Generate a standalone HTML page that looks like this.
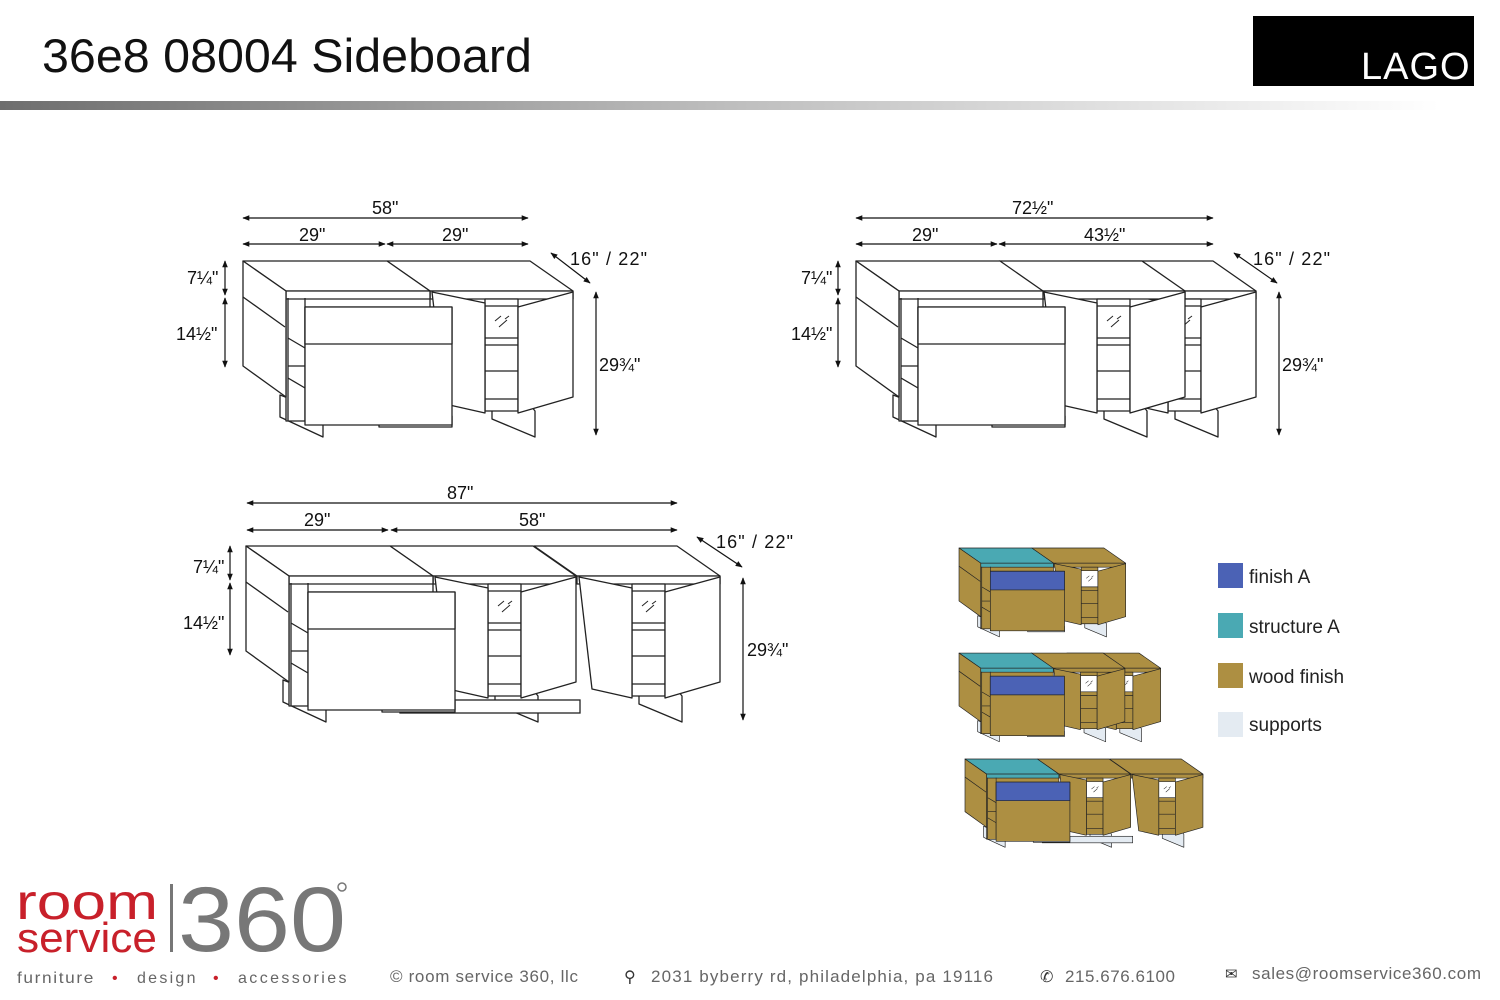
<!DOCTYPE html>
<html><head><meta charset="utf-8"><style>
body{margin:0;width:1500px;height:1000px;background:#fff;overflow:hidden;font-family:"Liberation Sans",sans-serif;position:relative}
.t{position:absolute;white-space:nowrap}
</style></head><body>
<div class="t" style="left:42px;top:28px;font-size:47px;color:#111;transform:scaleX(1.03);transform-origin:left">36e8 08004 Sideboard</div>
<div style="position:absolute;left:1253px;top:16px;width:221px;height:70px;background:#000"></div>
<div class="t" style="left:1361px;top:46px;font-size:38px;color:#fff;letter-spacing:1px">LAGO</div>
<div style="position:absolute;left:0;top:101px;width:1440px;height:9px;background:linear-gradient(90deg,#6e6e6e,#bdbdbd 50%,#fff)"></div>

<svg width="1500" height="1000" style="position:absolute;left:0;top:0" font-family="Liberation Sans, sans-serif">
<defs>
<marker id="a" viewBox="0 0 10 10" refX="9" refY="5" markerWidth="9" markerHeight="7" orient="auto-start-reverse" markerUnits="userSpaceOnUse"><path d="M0,1 L10,5 L0,9z" fill="#111"/></marker>
<g id="door" stroke="#222" stroke-width="1.3" stroke-linejoin="round">
 <polygon points="105,137 105,158 148,176 148,150 140,140" fill="var(--sup,#fff)"/>
 <polygon points="0,0 143,0 186,30 43,30" fill="var(--wood,#fff)"/>
 <rect x="43" y="30" width="143" height="8" fill="var(--wood,#fff)"/>
 <rect x="98" y="38" width="33" height="112" fill="var(--wood,#fff)"/>
 <rect x="98" y="45" width="33" height="32" fill="#fff"/>
 <path d="M98,84 H131 M98,110 H131 M98,138 H131" fill="none"/>
 <path d="M108,60 l6,-5 M112,66 l8,-7 M118,58 l4,-3" fill="none" stroke-width="1"/>
 <polygon points="45,31 98,42 98,152 58,143" fill="var(--wood,#fff)"/>
 <polygon points="131,46 186,31 186,136 131,152" fill="var(--wood,#fff)"/>
</g>
<g id="drw" stroke="#222" stroke-width="1.3" stroke-linejoin="round">
 <polygon points="37,134 37,156 80,176 80,150" fill="var(--sup,#fff)"/>
 <rect x="136" y="155" width="73" height="11" fill="var(--sup,#fff)"/>
 <rect x="43" y="30" width="144" height="130" fill="var(--wood,#fff)"/>
 <polygon points="0,0 144,0 187,30 43,30" fill="var(--top,#fff)"/>
 <rect x="43" y="30" width="144" height="8" fill="var(--top,#fff)"/>
 <polygon points="0,0 43,30 43,136 0,105" fill="var(--wood,#fff)"/>
 <path d="M0,36 L42,66" fill="none"/>
 <path d="M45,37 V160 M62,37 V160 M45,77 L62,87 M45,105 H62 M45,117 L62,127" fill="none"/>
 <rect x="62" y="46" width="147" height="118" fill="var(--wood,#fff)"/>
 <rect x="62" y="46" width="147" height="37" fill="var(--blue,#fff)"/>
</g>
<g id="d1">
 <use href="#door" x="387" y="261"/>
 <use href="#drw" x="243" y="261"/>
</g>
<g id="d2">
 <use href="#door" x="1070" y="261"/>
 <use href="#door" x="999" y="261"/>
 <use href="#drw" x="856" y="261"/>
</g>
<g id="d3">
 <use href="#door" x="534" y="546"/>
 <use href="#door" x="390" y="546"/>
 <rect x="400" y="700" width="180" height="13" stroke="#222" stroke-width="1.3" fill="var(--sup,#fff)"/>
 <use href="#drw" x="246" y="546"/>
</g>
</defs>

<use href="#d1"/>
<use href="#d2"/>
<use href="#d3"/>

<g style="--top:#4aa9b3;--wood:#ad8f42;--blue:#4b62b5;--sup:#e4ebf2">
 <use href="#d1" transform="translate(836.3,416.2) scale(0.505)"/>
 <use href="#d2" transform="translate(527.6,521.5) scale(0.504)"/>
 <use href="#d3" transform="translate(841.5,484.9) scale(0.502)"/>
</g>

<g stroke="#111" stroke-width="1.2" marker-start="url(#a)" marker-end="url(#a)" fill="none">
 <line x1="243" y1="218" x2="528" y2="218"/><line x1="243" y1="244" x2="385" y2="244"/><line x1="387" y1="244" x2="528" y2="244"/>
 <line x1="225" y1="261" x2="225" y2="295"/><line x1="225" y1="298" x2="225" y2="367"/><line x1="596" y1="292" x2="596" y2="435"/>
 <line x1="551" y1="253" x2="590" y2="283"/>
 <line x1="856" y1="218" x2="1213" y2="218"/><line x1="856" y1="244" x2="997" y2="244"/><line x1="999" y1="244" x2="1213" y2="244"/>
 <line x1="838" y1="261" x2="838" y2="295"/><line x1="838" y1="298" x2="838" y2="367"/><line x1="1279" y1="292" x2="1279" y2="435"/>
 <line x1="1234" y1="253" x2="1277" y2="283"/>
 <line x1="247" y1="503" x2="677" y2="503"/><line x1="247" y1="530" x2="388" y2="530"/><line x1="391" y1="530" x2="677" y2="530"/>
 <line x1="230" y1="546" x2="230" y2="580"/><line x1="230" y1="583" x2="230" y2="655"/><line x1="743" y1="578" x2="743" y2="720"/>
 <line x1="697" y1="537" x2="742" y2="567"/>
</g>
<g font-size="18" fill="#111">
 <text x="372" y="214">58"</text><text x="299" y="241">29"</text><text x="442" y="241">29"</text>
 <text x="187" y="284">7¼"</text><text x="176" y="340">14½"</text><text x="599" y="371">29¾"</text><text x="570" y="265" textLength="77">16" / 22"</text>
 <text x="1012" y="214">72½"</text><text x="912" y="241">29"</text><text x="1084" y="241">43½"</text>
 <text x="801" y="284">7¼"</text><text x="791" y="340">14½"</text><text x="1282" y="371">29¾"</text><text x="1253" y="265" textLength="77">16" / 22"</text>
 <text x="447" y="499">87"</text><text x="304" y="526">29"</text><text x="519" y="526">58"</text>
 <text x="193" y="573">7¼"</text><text x="183" y="629">14½"</text><text x="747" y="656">29¾"</text><text x="716" y="548" textLength="77">16" / 22"</text>
</g>
<rect x="1218" y="563" width="25" height="25" fill="#4b62b5"/>
<rect x="1218" y="613" width="25" height="25" fill="#4aa9b3"/>
<rect x="1218" y="663" width="25" height="25" fill="#ad8f42"/>
<rect x="1218" y="712" width="25" height="25" fill="#e4ebf2"/>
<g font-size="19" fill="#222">
 <text x="1249" y="583">finish A</text><text x="1249" y="633">structure A</text><text x="1249" y="683">wood finish</text><text x="1249" y="731">supports</text>
</g>
<!-- footer logo -->
<text x="16" y="919" font-size="50" fill="#c8202a" textLength="142" lengthAdjust="spacingAndGlyphs">room</text>
<text x="17" y="952" font-size="42" fill="#c8202a" textLength="140" lengthAdjust="spacingAndGlyphs">service</text>
<rect x="170" y="884" width="3" height="68" fill="#777"/>
<text x="178" y="951" font-size="92" fill="#777" textLength="168" lengthAdjust="spacingAndGlyphs">360</text>
<circle cx="342" cy="887" r="4" fill="none" stroke="#777" stroke-width="1.5"/>
<g font-size="16" fill="#666">
 <text x="17" y="983" textLength="78" lengthAdjust="spacingAndGlyphs" letter-spacing="1.5">furniture</text><text x="112" y="983" fill="#c8202a">•</text>
 <text x="137" y="983" textLength="60" letter-spacing="1.5">design</text><text x="213" y="983" fill="#c8202a">•</text>
 <text x="238" y="983" textLength="110" letter-spacing="1.5">accessories</text>
 <text x="390" y="982" font-size="17" textLength="188">© room service 360, llc</text>
 <text x="624" y="982" font-size="16" fill="#333">⚲</text>
 <text x="651" y="982" font-size="17" textLength="342">2031 byberry rd, philadelphia, pa 19116</text>
 <text x="1040" y="982" font-size="16" fill="#333">✆</text>
 <text x="1065" y="982" font-size="17" textLength="110">215.676.6100</text>
 <text x="1225" y="979" font-size="15" fill="#333">✉</text>
 <text x="1252" y="979" font-size="17" textLength="229">sales@roomservice360.com</text>
</g>
</svg>
</body></html>
